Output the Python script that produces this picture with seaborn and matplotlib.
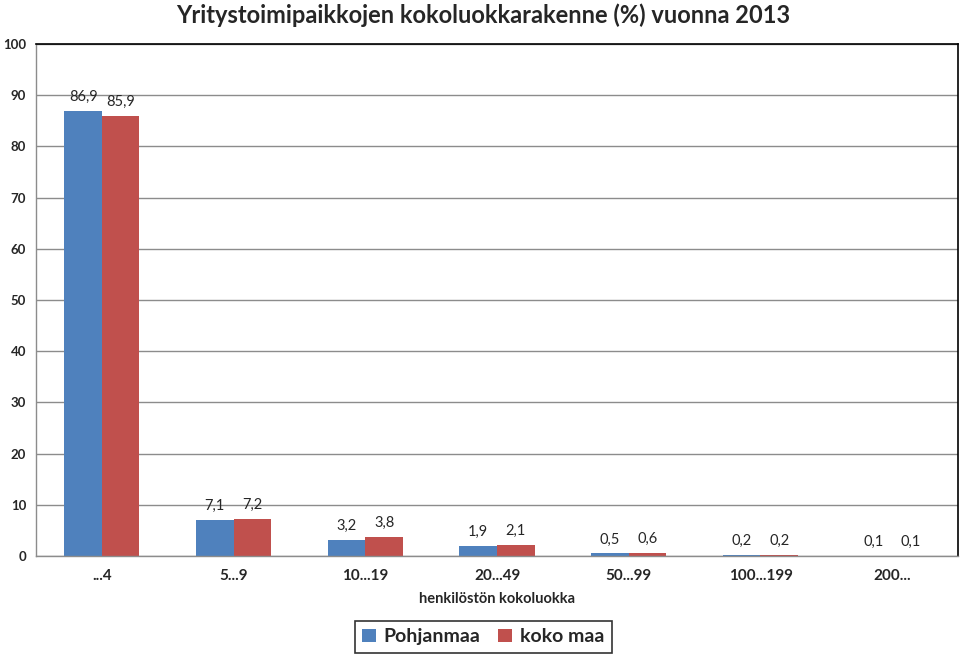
import matplotlib
matplotlib.use("Agg")
import matplotlib.pyplot as plt
import seaborn as sns
import pandas as pd
import numpy as np

categories = ["...4", "5...9", "10...19", "20...49", "50...99", "100...199", "200..."]
pohjanmaa = [86.9, 7.1, 3.2, 1.9, 0.5, 0.2, 0.1]
koko_maa = [85.9, 7.2, 3.8, 2.1, 0.6, 0.2, 0.1]
series_names = ["Pohjanmaa", "koko maa"]
yticks = [0, 10, 20, 30, 40, 50, 60, 70, 80, 90, 100]

sns.set_theme(style="white")
plt.rcParams['font.family'] = ['Lato', 'DejaVu Sans']

df = pd.DataFrame({
    "luokka": categories * 2,
    "arvo": pohjanmaa + koko_maa,
    "sarja": [series_names[0]] * len(categories) + [series_names[1]] * len(categories),
})

fig = plt.figure(figsize=(9.6, 6.57), dpi=100)
ax = fig.add_axes([0.0375, 0.1537, 0.9605, 0.7793])

sns.barplot(data=df, x="luokka", y="arvo", hue="sarja",
            palette=["#4F81BD", "#C0504D"], width=0.57, ax=ax,
            saturation=1, edgecolor="none", errorbar=None)

ax.set_ylim(0, 100)
ax.set_xlim(-0.5, len(categories) - 0.5)
ax.set_yticks(yticks)
ax.set_yticklabels([str(t) for t in yticks], fontsize=9.5, fontweight="bold")
ax.yaxis.grid(True, color="#8c8c8c", linewidth=1)
ax.set_axisbelow(True)
ax.tick_params(axis="y", length=0, pad=7)
ax.tick_params(axis="x", length=0, pad=9)
for lbl in ax.get_xticklabels():
    lbl.set_fontsize(11)
    lbl.set_fontweight("bold")
ax.set_xticks(np.arange(-0.5, len(categories) + 0.5, 1), minor=True)
ax.tick_params(axis="x", which="minor", length=5, color="#8c8c8c", width=1, direction="out")

for cont in ax.containers:
    labels = [f"{v:.1f}".replace(".", ",") for v in cont.datavalues]
    ax.bar_label(cont, labels=labels, padding=5, fontsize=10.5)

for s in ["top", "right"]:
    ax.spines[s].set_color("black")
    ax.spines[s].set_linewidth(1.2)
for s in ["left", "bottom"]:
    ax.spines[s].set_color("#8c8c8c")
    ax.spines[s].set_linewidth(1)

ax.set_ylabel("")
ax.set_xlabel("henkilöstön kokoluokka", fontsize=10.5, fontweight="bold", labelpad=7)

fig.suptitle("Yritystoimipaikkojen kokoluokkarakenne (%) vuonna 2013",
             x=0.503, y=0.995, fontsize=17, fontweight="bold")

handles, lbls = ax.get_legend_handles_labels()
ax.legend(handles, lbls, loc="center", bbox_to_anchor=(0.485, -0.158), ncol=2,
          frameon=True, fancybox=False, edgecolor="black",
          prop={"size": 14, "weight": "bold"},
          handlelength=0.7, handleheight=0.7, handletextpad=0.4, columnspacing=0.9,
          borderpad=0.4)
leg = ax.get_legend()
leg.get_frame().set_linewidth(1.2)

fig.savefig("out.png", dpi=100)
